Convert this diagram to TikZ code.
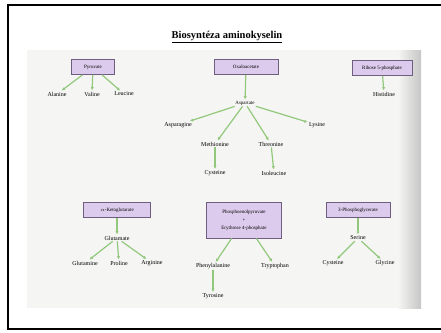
\documentclass[tikz,border=0pt]{standalone}
\usepackage{fontspec}
\setmainfont{Liberation Serif}
\usetikzlibrary{arrows.meta, positioning}
\definecolor{boxfill}{HTML}{DCCBEC}
\definecolor{boxline}{HTML}{6E5F80}
\definecolor{arrowgreen}{HTML}{92C87C}
\definecolor{photo}{HTML}{F5F5F3}

\begin{document}
\begin{tikzpicture}[
    x=1pt, y=-1pt,
    precursor/.style={rectangle, draw=boxline, fill=boxfill, line width=0.8pt, minimum height=15pt, inner sep=1.5pt, align=center, font=\fontsize{5}{6.5}\selectfont},
    product/.style={inner sep=1pt, font=\fontsize{6}{7}\selectfont},
    arrow/.style={-{Triangle[length=3pt, width=2.8pt]}, line width=1.2pt, draw=arrowgreen, shorten >=0.5pt}
]
\useasboundingbox (0,0) rectangle (441,332);
\begin{scope}
\clip (0,0) rectangle (441,332);
% photographed page
\fill[photo] (27,50) rectangle (421,308);
\shade[left color=photo, right color=gray!45] (398,50) rectangle (421,308);
% frame
\draw[line width=2pt] (8,5) rectangle (450,329);
\end{scope}

\node (title) at (227,37) {\fontsize{10.5}{12}\selectfont\underline{\textbf{Biosyntéza aminokyselin}}};

% precursors
\node (pyr) [precursor, minimum width=43pt] at (93,67) {Pyruvate};
\node (oxa) [precursor, minimum width=64pt] at (246,67) {Oxaloacetate};
\node (rib) [precursor, minimum width=60pt] at (382,68) {Ribose 5-phosphate};
\node (akg) [precursor, minimum width=67pt] at (117,210) {$\alpha$-Ketoglutarate};
\node (pep) [precursor, minimum width=75pt, minimum height=36pt] at (244,220) {Phosphoenolpyruvate\\[1.5pt]+\\[1.5pt]Erythrose 4-phosphate};
\node (pga) [precursor, minimum width=64pt] at (358,210) {3-Phosphoglycerate};

% products
\node (ala) [product] at (57,94) {Alanine};
\node (val) [product] at (92,94) {Valine};
\node (leu) [product] at (124,94) {Leucine};
\node (his) [product] at (384,94) {Histidine};
\node (asp) [product, font=\fontsize{5}{6}\selectfont] at (245,103) {Aspartate};
\node (asn) [product] at (178,125) {Asparagine};
\node (lys) [product] at (317,125) {Lysine};
\node (met) [product] at (215,144) {Methionine};
\node (thr) [product] at (271,144) {Threonine};
\node (cysa) [product] at (215,173) {Cysteine};
\node (ile) [product] at (274,173) {Isoleucine};
\node (glu) [product] at (117,238) {Glutamate};
\node (gln) [product] at (85,263) {Glutamine};
\node (pro) [product] at (119,263) {Proline};
\node (arg) [product] at (152,263) {Arginine};
\node (phe) [product] at (213,266) {Phenylalanine};
\node (trp) [product] at (275,266) {Tryptophan};
\node (tyr) [product] at (213,296) {Tyrosine};
\node (ser) [product] at (358,238) {Serine};
\node (cysb) [product] at (333,263) {Cysteine};
\node (gly) [product] at (385,263) {Glycine};

% arrows
\foreach \a/\b in {pyr/ala, pyr/val, pyr/leu, rib/his, oxa/asp, asp/asn, asp/met, asp/thr, asp/lys, met/cysa, thr/ile,
    akg/glu, glu/gln, glu/pro, glu/arg, pep/phe, pep/trp, phe/tyr, pga/ser, ser/cysb, ser/gly}
    \draw [arrow] (\a) -- (\b);
\end{tikzpicture}
\end{document}
